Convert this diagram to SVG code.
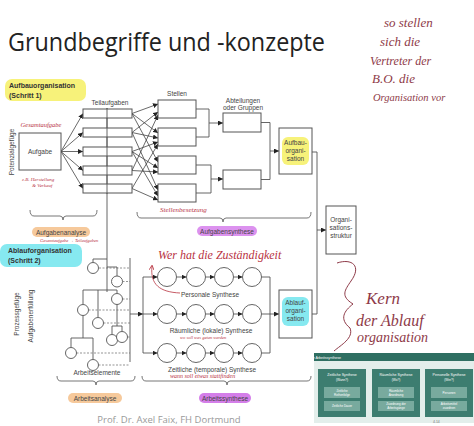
<svg xmlns="http://www.w3.org/2000/svg" width="474" height="426" viewBox="0 0 474 426">
<style>
.box{fill:#fff;stroke:#555;stroke-width:1}
.ln{fill:none;stroke:#555;stroke-width:0.9}
.ar{fill:none;stroke:#444;stroke-width:0.8;marker-end:url(#ah)}
.dash{fill:none;stroke:#666;stroke-width:0.7;stroke-dasharray:2 1.5}
.c{fill:#fff;stroke:#555;stroke-width:0.9}
.t{font-family:"Liberation Sans",Arial,sans-serif;font-size:6.5px;fill:#444;text-anchor:middle}
.tl{font-family:"Liberation Sans",Arial,sans-serif;font-size:7px;fill:#333;font-weight:bold}
.hw{font-family:"Liberation Serif","DejaVu Serif",serif;font-style:italic;fill:#b8323f}
.hn{font-family:"Liberation Serif","DejaVu Serif",serif;font-style:italic;fill:#8e3a48}
.brace{fill:none;stroke:#666;stroke-width:0.9}
.tw{font-family:"Liberation Sans",Arial,sans-serif;fill:#fff;text-anchor:middle}
</style>
<defs>
<marker id="ah" viewBox="0 0 6 6" refX="6" refY="3" markerWidth="5" markerHeight="5" markerUnits="userSpaceOnUse" orient="auto"><path d="M0,0L6,3L0,6z" fill="#222"/></marker>
<marker id="ahr" viewBox="0 0 6 6" refX="5" refY="3" markerWidth="5" markerHeight="5" markerUnits="userSpaceOnUse" orient="auto"><path d="M0,0L6,3L0,6" fill="none" stroke="#b8323f"/></marker>
</defs>
<rect width="474" height="426" fill="#fff"/>

<text x="8" y="51" font-family="'Open Sans','Liberation Sans',sans-serif" font-size="25" fill="#222" textLength="317" lengthAdjust="spacingAndGlyphs">Grundbegriffe und -konzepte</text>

<g id="handnote-right">
<text class="hn" x="384" y="27" font-size="13">so stellen</text>
<text class="hn" x="380" y="46" font-size="13">sich die</text>
<text class="hn" x="370" y="65" font-size="12">Vertreter der</text>
<text class="hn" x="372" y="83" font-size="13">B.O. die</text>
<text class="hn" x="373" y="101" font-size="10.5">Organisation vor</text>
</g>

<g id="label-aufbau">
<rect x="5" y="79" width="81" height="22" rx="7" fill="#f7f27a"/>
<text class="tl" x="9" y="88">Aufbauorganisation</text>
<text class="tl" x="9" y="97.5">(Schritt 1)</text>
</g>
<g id="label-ablauf">
<rect x="0" y="244" width="82" height="23" rx="7" fill="#86e9f0"/>
<text class="tl" x="8" y="253">Ablauforganisation</text>
<text class="tl" x="8" y="263">(Schritt 2)</text>
</g>

<text class="t" transform="translate(14,152) rotate(-90)">Potenzialgefüge</text>
<text class="t" transform="translate(19,314) rotate(-90)">Prozessgefüge</text>
<text class="t" transform="translate(33,316) rotate(-90)">Aufgabenerfüllung</text>

<g id="connectors">
<path class="ln" d="M107,108 V292"/>
<path class="ar" d="M61,151.5 L83,113.5"/>
<path class="ar" d="M61,151.5 L83,132.5"/>
<path class="ar" d="M61,151.5 L83,151.5"/>
<path class="ar" d="M61,151.5 L83,170.5"/>
<path class="ar" d="M61,151.5 L83,188.5"/>
<path class="ar" d="M132,113.5 L158,104"/>
<path class="ar" d="M132,113.5 L158,133"/>
<path class="ar" d="M132,113.5 L158,162"/>
<path class="ar" d="M132,132.5 L158,112"/>
<path class="ar" d="M132,132.5 L158,138"/>
<path class="ar" d="M132,132.5 L158,190"/>
<path class="ar" d="M132,151.5 L158,142"/>
<path class="ar" d="M132,151.5 L158,168"/>
<path class="ar" d="M132,151.5 L158,196"/>
<path class="ar" d="M132,170.5 L158,115"/>
<path class="ar" d="M132,170.5 L158,172"/>
<path class="ar" d="M132,188.5 L158,144"/>
<path class="ar" d="M132,188.5 L158,200"/>
<path class="ln" d="M196,109 H209 V137 H196"/>
<path class="ar" d="M209,123 H223"/>
<path class="ln" d="M196,165 H211 V193 H196"/>
<path class="ar" d="M211,179 H223"/>
<path class="ln" d="M261,122.5 H270 V179.5 H261"/>
<path class="ar" d="M270,151 H279"/>
<path class="ln" d="M312,152 H317 V314 H312"/>
<path class="ar" d="M317,230 H326"/>
<path class="ar" d="M130,314 H143"/>
<path class="ln" d="M143,277 V353"/>
<path class="ar" d="M143,277 H157.5"/>
<path class="ar" d="M143,314 H157.5"/>
<path class="ar" d="M143,353 H157.5"/>
<path class="ar" d="M176.5,277 H186.5"/><path class="ar" d="M205.5,277 H214.5"/><path class="ar" d="M233.5,277 H242.5"/>
<path class="ar" d="M176.5,314 H186.5"/><path class="ar" d="M205.5,314 H214.5"/><path class="ar" d="M233.5,314 H242.5"/>
<path class="ar" d="M176.5,353 H186.5"/><path class="ar" d="M205.5,353 H214.5"/><path class="ar" d="M233.5,353 H242.5"/>
<path class="ln" d="M261.5,277 H270 V353 H261.5"/>
<path class="ln" d="M261.5,314 H270"/>
<path class="ar" d="M270,314 H279"/>
</g>

<g id="node-aufgabe">
<rect class="box" x="19" y="133" width="42" height="37"/>
<text class="t" x="40" y="154">Aufgabe</text>
</g>
<text class="hw" x="41" y="127" font-size="6.5" text-anchor="middle">Gesamtaufgabe</text>
<text class="hw" x="22" y="181" font-size="5">z.B. Herstellung</text>
<text class="hw" x="32" y="187" font-size="5">&amp; Verkauf</text>

<g id="node-teilaufgaben">
<text class="t" x="110" y="105">Teilaufgaben</text>
<rect class="box" x="83" y="109" width="49" height="9"/>
<rect class="box" x="83" y="128" width="49" height="9"/>
<rect class="box" x="83" y="147" width="49" height="9"/>
<rect class="box" x="83" y="166" width="49" height="9"/>
<rect class="box" x="83" y="184" width="49" height="9"/>
<path class="ln" d="M107,108 V194"/>
</g>

<g id="node-stellen">
<text class="t" x="177" y="96">Stellen</text>
<rect class="box" x="158" y="100" width="38" height="18"/>
<rect class="box" x="158" y="128" width="38" height="18"/>
<rect class="box" x="158" y="156" width="38" height="18"/>
<rect class="box" x="158" y="184" width="38" height="18"/>
</g>

<g id="node-abteilungen">
<text class="t" x="243" y="103">Abteilungen</text>
<text class="t" x="243" y="110">oder Gruppen</text>
<rect class="box" x="223" y="113" width="38" height="19"/>
<rect class="box" x="223" y="170" width="38" height="19"/>
</g>

<g id="node-aufbauorganisation">
<rect class="box" x="279" y="128" width="33" height="46"/>
<rect x="282" y="137" width="27" height="28" rx="6" fill="#f7f27a"/>
<text class="t" x="295.5" y="145">Aufbau-</text>
<text class="t" x="295.5" y="153">organi-</text>
<text class="t" x="295.5" y="161">sation</text>
</g>

<g id="node-organisationsstruktur">
<rect class="box" x="326" y="206" width="30" height="48"/>
<text class="t" x="341" y="222">Organi-</text>
<text class="t" x="341" y="230">sations-</text>
<text class="t" x="341" y="238">struktur</text>
</g>

<g id="node-ablauforganisation">
<rect class="box" x="279" y="290" width="33" height="48"/>
<rect x="282" y="297" width="27" height="29" rx="6" fill="#86e9f0"/>
<text class="t" x="295.5" y="305">Ablauf-</text>
<text class="t" x="295.5" y="313">organi-</text>
<text class="t" x="295.5" y="321">sation</text>
</g>

<g id="brace-aufgabenanalyse">
<path class="brace" d="M30,210 Q30,216 34,216 H60 Q63,216 63,220 Q63,216 66,216 H93 Q97,216 97,210"/>
<rect x="32" y="227" width="58" height="10" rx="5" fill="#f6c99b"/>
<text class="t" x="61" y="234.5">Aufgabenanalyse</text>
<text class="hw" x="40" y="242" font-size="4.5">Gesamtaufgabe → Teilaufgaben</text>
</g>

<g id="brace-aufgabensynthese">
<path class="brace" d="M137,212 Q137,218 141,218 H220 Q223,218 223,222 Q223,218 226,218 H307 Q311,218 311,212"/>
<rect x="197" y="226" width="60" height="10" rx="5" fill="#dc92ef"/>
<text class="t" x="227" y="233.5">Aufgabensynthese</text>
<text class="hw" x="160" y="212" font-size="7">Stellenbesetzung</text>
</g>

<g id="node-arbeitselemente">
<path class="ln" d="M130,258 V362"/>
<path class="ln" d="M107,259 H93 V262.5"/>
<circle class="c" cx="93" cy="268" r="5.5"/>
<path class="ln" d="M107,267 H117 V276"/>
<circle class="c" cx="117" cy="281.5" r="5.5"/>
<path class="ln" d="M83,290 H117 M83,290 V304.5 M98,290 V317.5 M117,290 V293.5"/>
<circle class="c" cx="83" cy="310" r="5.5"/>
<circle class="c" cx="98" cy="323" r="5.5"/>
<circle class="c" cx="117" cy="299" r="5.5"/>
<path class="ln" d="M117,304.5 V326 M112,326 H122 M112,326 V334.5 M122,326 V331.5"/>
<circle class="c" cx="112" cy="340" r="5.5"/>
<circle class="c" cx="122" cy="337" r="5.5"/>
<path class="ln" d="M83,315.5 V338 M71,338 H93 M71,338 V347.5 M93,338 V359.5"/>
<circle class="c" cx="71" cy="353" r="5.5"/>
<circle class="c" cx="93" cy="365" r="5.5"/>
<path class="dash" d="M99,268 H130 M122.5,281.5 H130 M122.5,299 H130 M88.5,310 H130 M103.5,323 H130 M127.5,337 H130 M76.5,353 H130 M98.5,365 H130"/>
<text class="t" x="97" y="375">Arbeitselemente</text>
</g>

<g id="brace-arbeitsanalyse">
<path class="brace" d="M57,376 Q57,381 61,381 H93 Q96,381 96,385 Q96,381 99,381 H131 Q135,381 135,376"/>
<rect x="68" y="393" width="54" height="10" rx="5" fill="#f6c99b"/>
<text class="t" x="95" y="400.5">Arbeitsanalyse</text>
</g>

<g id="synthese-personale">
<circle class="c" cx="167" cy="277" r="9.5"/><circle class="c" cx="196" cy="277" r="9.5"/><circle class="c" cx="224" cy="277" r="9.5"/><circle class="c" cx="252" cy="277" r="9.5"/>
<text class="t" x="210" y="297" font-size="7">Personale Synthese</text>
</g>
<g id="synthese-raeumliche">
<circle class="c" cx="167" cy="314" r="9.5"/><circle class="c" cx="196" cy="314" r="9.5"/><circle class="c" cx="224" cy="314" r="9.5"/><circle class="c" cx="252" cy="314" r="9.5"/>
<text class="t" x="211" y="333" font-size="7">Räumliche (lokale) Synthese</text>
</g>
<g id="synthese-zeitliche">
<circle class="c" cx="167" cy="353" r="9.5"/><circle class="c" cx="196" cy="353" r="9.5"/><circle class="c" cx="224" cy="353" r="9.5"/><circle class="c" cx="252" cy="353" r="9.5"/>
<text class="t" x="212" y="372" font-size="7">Zeitliche (temporale) Synthese</text>
</g>

<g id="brace-arbeitssynthese">
<path class="brace" d="M142,376 Q142,381 146,381 H224 Q227,381 227,385 Q227,381 230,381 H307 Q311,381 311,376"/>
<rect x="199" y="393" width="52" height="10" rx="5" fill="#d47ee9"/>
<text class="t" x="225" y="400.5">Arbeitssynthese</text>
</g>

<g id="handnotes-red">
<text class="hw" x="158" y="259" font-size="12">Wer hat die Zuständigkeit</text>
<path d="M180,293 C160,292 150,285 152,266" fill="none" stroke="#b8323f" stroke-width="0.8" marker-end="url(#ahr)"/>
<text class="hw" x="180" y="339" font-size="4.5">wo soll was getan werden</text>
<text class="hw" x="170" y="378" font-size="6">wann soll etwas stattfinden</text>
<path d="M337,263 C352,258 362,266 351,281 C345,290 340,296 353,304 C344,311 339,319 350,328 C354,338 341,345 334,351" fill="none" stroke="#8e3a48" stroke-width="1"/>
<text class="hn" x="366" y="304" font-size="17">Kern</text>
<text class="hn" x="356" y="326" font-size="16">der Ablauf</text>
<text class="hn" x="357" y="342" font-size="14">organisation</text>
</g>

<g id="table-kriterien">
<rect x="314" y="353" width="160" height="8" fill="#2f6f62"/>
<text class="tw" x="318" y="359" font-size="3.6" text-anchor="start">Kriterien der Arbeitssynthese</text>
<rect x="314" y="361" width="160" height="62" fill="#e3eeeb"/>
<rect x="318" y="369" width="48" height="48" fill="#3d7d70"/>
<rect x="372" y="369" width="48" height="48" fill="#3d7d70"/>
<rect x="425" y="369" width="48" height="48" fill="#3d7d70"/>
<text class="tw" x="342" y="376" font-size="3.6">Zeitliche Synthese</text><text class="tw" x="342" y="380.5" font-size="3.2">(Wann?)</text>
<text class="tw" x="396" y="376" font-size="3.6">Räumliche Synthese</text><text class="tw" x="396" y="380.5" font-size="3.2">(Wo?)</text>
<text class="tw" x="449" y="376" font-size="3.6">Personelle Synthese</text><text class="tw" x="449" y="380.5" font-size="3.2">(Wer?)</text>
<rect x="324" y="387" width="36" height="11" fill="#78aa9e"/><rect x="324" y="401" width="36" height="10" fill="#78aa9e"/>
<rect x="378" y="387" width="36" height="11" fill="#78aa9e"/><rect x="378" y="401" width="36" height="10" fill="#78aa9e"/>
<rect x="431" y="387" width="36" height="11" fill="#78aa9e"/><rect x="431" y="401" width="36" height="10" fill="#78aa9e"/>
<text class="tw" x="342" y="392" font-size="3">Zeitliche</text><text class="tw" x="342" y="396" font-size="3">Reihenfolge</text>
<text class="tw" x="342" y="407" font-size="3">Zeitliche Dauer</text>
<text class="tw" x="396" y="392" font-size="3">Räumliche</text><text class="tw" x="396" y="396" font-size="3">Anordnung</text>
<text class="tw" x="396" y="405" font-size="3">Zuordnung der</text><text class="tw" x="396" y="409" font-size="3">Arbeitsgänge</text>
<text class="tw" x="449" y="394" font-size="3">Personen</text>
<text class="tw" x="449" y="405" font-size="3">Arbeitsmittel</text><text class="tw" x="449" y="409" font-size="3">zuordnen</text>
<text x="433" y="423" font-family="'Liberation Sans',sans-serif" font-size="3.5" fill="#777">4.14</text>
</g>

<text x="169" y="423" text-anchor="middle" font-family="'Open Sans','Liberation Sans',sans-serif" font-size="9.5" fill="#9a9a9a">Prof. Dr. Axel Faix, FH Dortmund</text>
</svg>
